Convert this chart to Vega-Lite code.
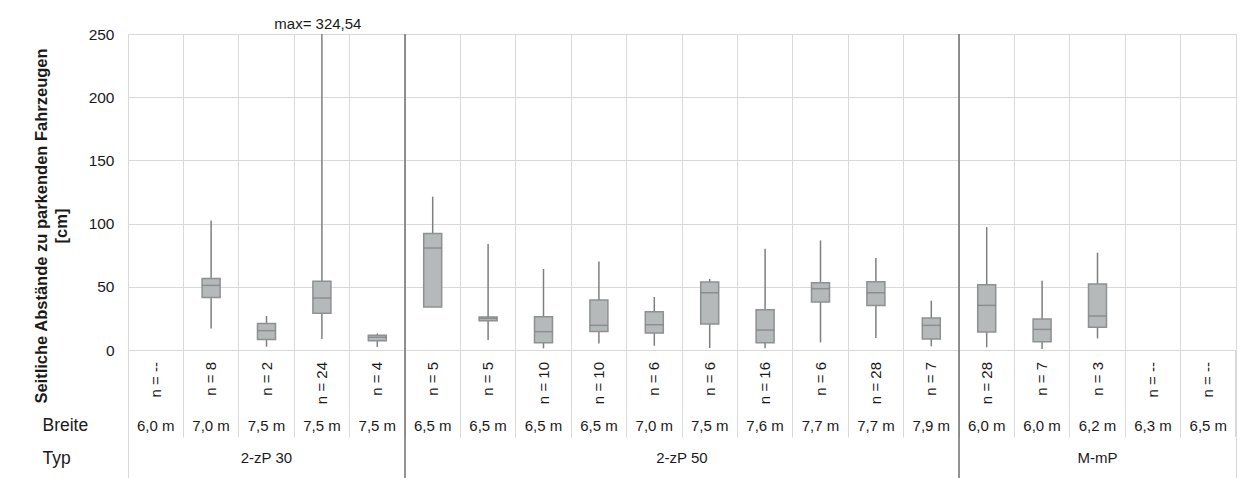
{
  "$schema": "https://vega.github.io/schema/vega-lite/v6.json",
  "padding": {"left": 32, "top": 16, "right": 5, "bottom": 0},
  "background": "white",
  "spacing": 0,
  "bounds": "flush",
  "config": {
    "font": "Liberation Sans",
    "view": {"stroke": null},
    "text": {"color": "#1a1a1a"}
  },
  "datasets": {
    "boxes": [
      {"col": 1, "typ": "2-zP 30", "breite": "6,0 m", "n": null, "min": null, "q1": null, "median": null, "q3": null, "max": null},
      {"col": 2, "typ": "2-zP 30", "breite": "7,0 m", "n": 8, "min": 17.1, "q1": 41.6, "median": 51.1, "q3": 56.6, "max": 102.5},
      {"col": 3, "typ": "2-zP 30", "breite": "7,5 m", "n": 2, "min": 2.6, "q1": 8.4, "median": 15.3, "q3": 21.0, "max": 26.9},
      {"col": 4, "typ": "2-zP 30", "breite": "7,5 m", "n": 24, "min": 8.7, "q1": 29.0, "median": 41.1, "q3": 54.3, "max": 324.54},
      {"col": 5, "typ": "2-zP 30", "breite": "7,5 m", "n": 4, "min": 2.4, "q1": 7.4, "median": 10.0, "q3": 11.6, "max": 13.1},
      {"col": 6, "typ": "2-zP 50", "breite": "6,5 m", "n": 5, "min": 34.0, "q1": 34.0, "median": 80.7, "q3": 92.2, "max": 121.3},
      {"col": 7, "typ": "2-zP 50", "breite": "6,5 m", "n": 5, "min": 7.9, "q1": 23.2, "median": 25.0, "q3": 26.1, "max": 83.9},
      {"col": 8, "typ": "2-zP 50", "breite": "6,5 m", "n": 10, "min": 1.3, "q1": 5.8, "median": 14.5, "q3": 26.3, "max": 64.1},
      {"col": 9, "typ": "2-zP 50", "breite": "6,5 m", "n": 10, "min": 5.2, "q1": 14.7, "median": 19.5, "q3": 39.6, "max": 70.1},
      {"col": 10, "typ": "2-zP 50", "breite": "7,0 m", "n": 6, "min": 3.4, "q1": 13.4, "median": 20.0, "q3": 30.3, "max": 41.9},
      {"col": 11, "typ": "2-zP 50", "breite": "7,5 m", "n": 6, "min": 1.6, "q1": 20.6, "median": 45.3, "q3": 53.8, "max": 56.2},
      {"col": 12, "typ": "2-zP 50", "breite": "7,6 m", "n": 16, "min": 1.3, "q1": 5.8, "median": 15.8, "q3": 31.9, "max": 80.1},
      {"col": 13, "typ": "2-zP 50", "breite": "7,7 m", "n": 6, "min": 6.0, "q1": 38.0, "median": 48.5, "q3": 53.2, "max": 86.7},
      {"col": 14, "typ": "2-zP 50", "breite": "7,7 m", "n": 28, "min": 9.5, "q1": 35.3, "median": 45.3, "q3": 54.0, "max": 72.8},
      {"col": 15, "typ": "2-zP 50", "breite": "7,9 m", "n": 7, "min": 2.9, "q1": 8.7, "median": 19.5, "q3": 25.3, "max": 39.0},
      {"col": 16, "typ": "M-mP", "breite": "6,0 m", "n": 28, "min": 2.1, "q1": 14.2, "median": 35.3, "q3": 51.7, "max": 97.3},
      {"col": 17, "typ": "M-mP", "breite": "6,0 m", "n": 7, "min": 0.8, "q1": 6.6, "median": 16.3, "q3": 24.5, "max": 54.8},
      {"col": 18, "typ": "M-mP", "breite": "6,2 m", "n": 3, "min": 9.2, "q1": 17.9, "median": 26.9, "q3": 52.2, "max": 77.0},
      {"col": 19, "typ": "M-mP", "breite": "6,3 m", "n": null, "min": null, "q1": null, "median": null, "q3": null, "max": null},
      {"col": 20, "typ": "M-mP", "breite": "6,5 m", "n": null, "min": null, "q1": null, "median": null, "q3": null, "max": null}
    ]
  },
  "vconcat": [
    {
      "width": 1108,
      "height": 316,
      "view": {"stroke": "#d9d9d9"},
      "data": {"name": "boxes"},
      "encoding": {
        "x": {
          "field": "col", "type": "ordinal",
          "scale": {"domain": [1,2,3,4,5,6,7,8,9,10,11,12,13,14,15,16,17,18,19,20], "paddingInner": 0, "paddingOuter": 0},
          "axis": {"grid": true, "bandPosition": 0, "gridColor": "#d9d9d9", "labels": false, "ticks": false, "domain": false, "title": null}
        }
      },
      "layer": [
        {
          "mark": {"type": "rule", "color": "#7d7f7f", "strokeWidth": 1.5, "clip": true},
          "encoding": {
            "y": {
              "field": "min", "type": "quantitative",
              "scale": {"domain": [0, 250], "nice": false},
              "axis": {
                "values": [0, 50, 100, 150, 200, 250],
                "grid": true, "gridColor": "#d9d9d9", "ticks": false, "domain": false,
                "labelFontSize": 15.5, "labelColor": "#1a1a1a", "labelPadding": 14,
                "title": ["Seitliche Abstände zu parkenden Fahrzeugen", "[cm]"],
                "titleFontSize": 16.5, "titleFontWeight": "bold", "titleColor": "#1a1a1a",
                "titleAngle": 270, "titleAlign": "center", "titleBaseline": "middle",
                "titleLineHeight": 20, "titleX": -87, "titleY": 191.5
              }
            },
            "y2": {"field": "max"}
          }
        },
        {
          "mark": {"type": "bar", "width": 18, "fill": "#b5b9b9", "stroke": "#8e9191", "strokeWidth": 1.5},
          "encoding": {
            "y": {"field": "q3", "type": "quantitative"},
            "y2": {"field": "q1"}
          }
        },
        {
          "mark": {"type": "tick", "color": "#7a7d7d", "thickness": 1.5, "size": 18},
          "encoding": {"y": {"field": "median", "type": "quantitative"}}
        },
        {
          "transform": [
            {"filter": "datum.max > 250"},
            {"calculate": "'max= ' + replace(format(datum.max, '.2f'), '.', ',')", "as": "maxLabel"}
          ],
          "mark": {"type": "text", "fontSize": 15, "dy": -5, "dx": -4, "baseline": "alphabetic"},
          "encoding": {
            "y": {"datum": 250, "type": "quantitative"},
            "text": {"field": "maxLabel"}
          }
        },
        {
          "transform": [
            {"aggregate": [{"op": "min", "field": "col", "as": "first"}], "groupby": ["typ"]},
            {"filter": "datum.first > 1"}
          ],
          "mark": {"type": "rule", "color": "#6e6e6e", "strokeWidth": 1.5},
          "encoding": {
            "x": {"field": "first", "type": "ordinal", "bandPosition": 0,
              "axis": {"grid": true, "bandPosition": 0, "gridColor": "#d9d9d9", "labels": false, "ticks": false, "domain": false, "title": null}}
          }
        }
      ]
    },
    {
      "width": 1108,
      "height": 64,
      "data": {"name": "boxes"},
      "transform": [{"calculate": "'n = ' + (datum.n == null ? '--' : datum.n)", "as": "nLabel"}],
      "encoding": {
        "x": {
          "field": "col", "type": "ordinal",
          "scale": {"domain": [1,2,3,4,5,6,7,8,9,10,11,12,13,14,15,16,17,18,19,20], "paddingInner": 0, "paddingOuter": 0},
          "axis": {"grid": true, "bandPosition": 0, "gridColor": "#d9d9d9", "labels": false, "ticks": false, "domain": false, "title": null}
        }
      },
      "layer": [
        {
          "mark": {"type": "text", "angle": 270, "align": "right", "baseline": "middle", "dx": 20, "fontSize": 15},
          "encoding": {"text": {"field": "nLabel"}}
        },
        {
          "transform": [
            {"aggregate": [{"op": "min", "field": "col", "as": "first"}], "groupby": ["typ"]},
            {"filter": "datum.first > 1"}
          ],
          "mark": {"type": "rule", "color": "#6e6e6e", "strokeWidth": 1.5},
          "encoding": {
            "x": {"field": "first", "type": "ordinal", "bandPosition": 0,
              "axis": {"grid": true, "bandPosition": 0, "gridColor": "#d9d9d9", "labels": false, "ticks": false, "domain": false, "title": null}}
          }
        },
        {
          "mark": {"type": "rule", "color": "#d9d9d9", "strokeWidth": 1},
          "encoding": {
            "x": {"datum": 20, "type": "ordinal", "bandPosition": 1,
              "axis": {"grid": true, "bandPosition": 0, "gridColor": "#d9d9d9", "labels": false, "ticks": false, "domain": false, "title": null}}
          }
        }
      ]
    },
    {
      "width": 1108,
      "height": 23,
      "data": {"name": "boxes"},
      "encoding": {
        "x": {
          "field": "col", "type": "ordinal",
          "scale": {"domain": [1,2,3,4,5,6,7,8,9,10,11,12,13,14,15,16,17,18,19,20], "paddingInner": 0, "paddingOuter": 0},
          "axis": {"grid": true, "bandPosition": 0, "gridColor": "#d9d9d9", "labels": false, "ticks": false, "domain": false, "title": null}
        }
      },
      "layer": [
        {
          "mark": {"type": "text", "baseline": "middle", "fontSize": 15},
          "encoding": {
            "y": {"datum": "Breite", "type": "nominal",
              "axis": {"title": null, "ticks": false, "domain": false, "grid": false, "labelAlign": "left", "labelBaseline": "middle", "labelPadding": 86, "labelFontSize": 17.5, "labelColor": "#1a1a1a"}},
            "text": {"field": "breite"}
          }
        },
        {
          "transform": [
            {"aggregate": [{"op": "min", "field": "col", "as": "first"}], "groupby": ["typ"]},
            {"filter": "datum.first > 1"}
          ],
          "mark": {"type": "rule", "color": "#6e6e6e", "strokeWidth": 1.5},
          "encoding": {
            "x": {"field": "first", "type": "ordinal", "bandPosition": 0,
              "axis": {"grid": true, "bandPosition": 0, "gridColor": "#d9d9d9", "labels": false, "ticks": false, "domain": false, "title": null}}
          }
        },
        {
          "mark": {"type": "rule", "color": "#d9d9d9", "strokeWidth": 1},
          "encoding": {
            "x": {"datum": 20, "type": "ordinal", "bandPosition": 1,
              "axis": {"grid": true, "bandPosition": 0, "gridColor": "#d9d9d9", "labels": false, "ticks": false, "domain": false, "title": null}}
          }
        }
      ]
    },
    {
      "width": 1108,
      "height": 42,
      "data": {"name": "boxes"},
      "transform": [
        {"aggregate": [{"op": "min", "field": "col", "as": "first"}, {"op": "max", "field": "col", "as": "last"}], "groupby": ["typ"]},
        {"calculate": "(datum.first - 1 + datum.last) / 2", "as": "mid"},
        {"calculate": "datum.first - 1", "as": "start"}
      ],
      "layer": [
        {
          "mark": {"type": "text", "baseline": "middle", "fontSize": 15},
          "encoding": {
            "x": {"field": "mid", "type": "quantitative",
              "scale": {"domain": [0, 20], "nice": false, "zero": false},
              "axis": {"grid": true, "values": [0, 20], "gridColor": "#d9d9d9", "labels": false, "ticks": false, "domain": false, "title": null}},
            "y": {"datum": "Typ", "type": "nominal",
              "axis": {"title": null, "ticks": false, "domain": false, "grid": false, "labelAlign": "left", "labelBaseline": "middle", "labelPadding": 86, "labelFontSize": 17.5, "labelColor": "#1a1a1a"}},
            "text": {"field": "typ"}
          }
        },
        {
          "transform": [{"filter": "datum.start > 0"}],
          "mark": {"type": "rule", "color": "#6e6e6e", "strokeWidth": 1.5},
          "encoding": {
            "x": {"field": "start", "type": "quantitative"}
          }
        }
      ]
    }
  ]
}
